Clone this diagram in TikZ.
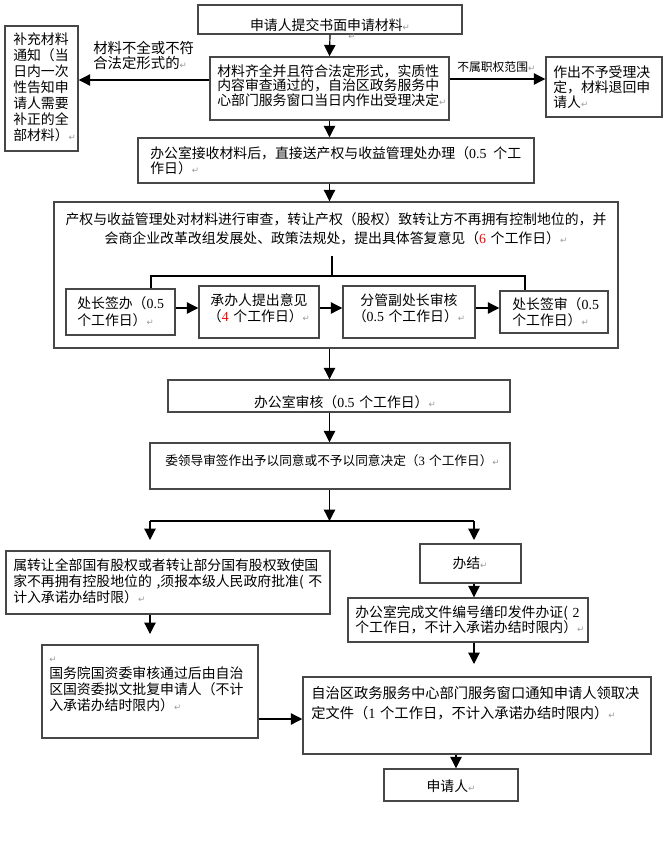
\documentclass[tikz,border=0pt]{standalone}
\usepackage{fontspec}
\setmainfont{Noto Sans CJK SC}
\newfontfamily\latf{Liberation Serif}
\newfontfamily\djvf{DejaVu Sans}
\usetikzlibrary{fit,arrows.meta}
\newcommand\retmk{{\color{black!40}\djvf\fontsize{6.5pt}{6.5pt}\selectfont ↵}}
\newcommand\nm[1]{{\latf #1}}
\newcommand\fsz[1]{\fontsize{10.4pt}{#1}\selectfont}
\begin{document}
\begin{tikzpicture}[x=0.75pt,y=-0.75pt,
  box/.style={draw=black!72, line width=1.1pt, inner sep=0pt},
  txt/.style={inner sep=0pt, anchor=base west, align=left, text width=420pt, font=\fsz{12pt}},
  ctxt/.style={txt, anchor=base, align=center},
  arr/.style={-{Triangle[length=8.5pt,width=8.5pt]}, line width=0.9pt, black},
  ln/.style={line width=0.9pt, black}]
\useasboundingbox (0,0) rectangle (667,847);

% top part
\node[box, fit={(198,5)(462,34)}] (b1) {};
\node[ctxt] (t1) at (330,30) {申请人提交书面申请材料\retmk};
\node[inner sep=0pt] (t1b) at (352,37) {\retmk};

\node[box, fit={(210,57)(449,120)}] (b2) {};
\node[txt, font=\fsz{11pt}] (t2) at (217,76) {材料齐全并且符合法定形式，实质性\\内容审查通过的，自治区政务服务中\\心部门服务窗口当日内作出受理决定\retmk};

\node[box, fit={(5,26)(78,151)}] (b3) {};
\node[txt, font=\fsz{12pt}] (t3) at (13,44) {补充材料\\通知（当\\日内一次\\性告知申\\请人需要\\补正的全\\部材料）\retmk};

\node[txt, font=\fontsize{10.8pt}{11.25pt}\selectfont] (t4) at (93,53) {材料不全或不符\\合法定形式的\retmk};

\node[box, fit={(546,57)(662,117)}] (b4) {};
\node[txt, font=\fsz{11.6pt}] (t5) at (553,77) {作出不予受理决\\定，材料退回申\\请人\retmk};
\node[txt, font=\fontsize{8.85pt}{10pt}\selectfont] (t6) at (457,71) {不属职权范围\retmk};

\draw[arr] (b1.south) -- (b2.north);
\draw[arr] (b2.west |- 0,80) -- (b3.east |- 0,80);
\draw[arr] (b2.east |- 0,79) -- (b4.west |- 0,79);

% office receive
\node[box, fit={(138,138)(534,183)}] (b5) {};
\node[txt, font=\fsz{11.25pt}] (t7) at (150,158) {办公室接收材料后，直接送产权与收益管理处办理（\nm{0.5}\, 个工\\作日）\retmk};
\draw[arr] (b2.south) -- (b2.south |- b5.north);

% big box
\node[box, fit={(54,202)(618,348)}] (b6) {};
\node[ctxt, text width=600pt, font=\fsz{14.25pt}] (t8) at (336,224) {产权与收益管理处对材料进行审查，转让产权（股权）致转让方不再拥有控制地位的，并\\会商企业改革改组发展处、政策法规处，提出具体答复意见（\textcolor{red}{\nm{6}} 个工作日）\retmk};
\draw[arr] (b2.south |- b5.south) -- (b2.south |- b6.north);

% sub boxes
\node[box, fit={(66,289)(175,335)}] (s1) {};
\node[txt, font=\fsz{12.75pt}] (u1) at (77,308) {处长签办（\nm{0.5}\\个工作日）\retmk};
\node[box, fit={(199,286)(319,338)}] (s2) {};
\node[ctxt, font=\fsz{12pt}] (u2) at (259,305) {承办人提出意见\\（\textcolor{red}{\nm{4}} 个工作日）\retmk};
\node[box, fit={(343,286)(475,338)}] (s3) {};
\node[ctxt, font=\fsz{12pt}] (u3) at (409,305) {分管副处长审核\\（\nm{0.5} 个工作日）\retmk};
\node[box, fit={(500,291)(608,333)}] (s4) {};
\node[txt, font=\fsz{12pt}] (u4) at (512,309) {处长签审（\nm{0.5}\\个工作日）\retmk};

\coordinate (sp) at (332,256);
\coordinate (hl) at (151,276);
\coordinate (hr) at (525,276);
\coordinate (ry) at (0,308);
\draw[ln] (sp) -- (sp |- hl);
\draw[ln] (s1.north -| hl) |- (hr) -- (s4.north -| hr);
\draw[arr] (s1.east |- ry) -- (s2.west |- ry);
\draw[arr] (s2.east |- ry) -- (s3.west |- ry);
\draw[arr] (s3.east |- ry) -- (s4.west |- ry);

% office review & leader
\node[box, fit={(168,380)(510,412)}] (b7) {};
\node[ctxt] (t9) at (345,407) {办公室审核（\nm{0.5} 个工作日）\retmk};
\node[box, fit={(150,443)(510,489)}] (b8) {};
\node[txt, font=\fontsize{9.5pt}{11pt}\selectfont] (t10) at (165,465) {委领导审签作出予以同意或不予以同意决定（\nm{3} 个工作日）\retmk};
\draw[arr] (b6.south -| b2.south) -- (b7.north -| b2.south);
\draw[arr] (b7.south -| b2.south) -- (b8.north -| b2.south);

% branch
\coordinate (brL) at (150,521);
\coordinate (brR) at (474,521);
\coordinate (tipL) at (150,540);
\coordinate (tipR) at (474,540);
\draw[arr] (b8.south -| b2.south) -- (b2.south |- brL);
\draw[ln] (brL) -- (brR);
\draw[arr] (brL) -- (tipL);
\draw[arr] (brR) -- (tipR);

% left branch
\node[box, fit={(6,551)(330,614)}] (b9) {};
\node[txt, font=\fsz{12pt}] (t11) at (13,570) {属转让全部国有股权或者转让部分国有股权致使国\\家不再拥有控股地位的 ,须报本级人民政府批准( 不\\计入承诺办结时限）\retmk};
\node[box, fit={(42,645)(258,738)}] (b12) {};
\node[inner sep=0pt, anchor=base west] (t12a) at (49,662) {\retmk};
\node[txt, font=\fsz{12pt}] (t12) at (49,678) {国务院国资委审核通过后由自治\\区国资委拟文批复申请人（不计\\入承诺办结时限内）\retmk};
\coordinate (tipG) at (150,634);
\draw[arr] (tipL |- b9.south) -- (tipG);

% right branch
\node[box, fit={(420,544)(521,583)}] (b10) {};
\node[ctxt] (t13) at (470,568) {办结\retmk};
\node[box, fit={(348,598)(588,642)}] (b11) {};
\node[txt, font=\fsz{11.25pt}] (t14) at (355,617) {办公室完成文件编号缮印发件办证( \nm{2}\\个工作日，不计入承诺办结时限内）\retmk};
\draw[arr] (tipR |- b10.south) -- (tipR |- b11.north);
\coordinate (tipZ) at (474,664);
\draw[arr] (tipR |- b11.south) -- (tipZ);

\node[box, fit={(303,677)(651,754)}] (b13) {};
\node[txt, font=\fontsize{10.7pt}{15pt}\selectfont] (t15) at (311,698) {自治区政务服务中心部门服务窗口通知申请人领取决\\定文件（\nm{1} 个工作日，不计入承诺办结时限内）\retmk};
\draw[arr] (b12.east |- 0,719) -- (b13.west |- 0,719);

\node[box, fit={(384,769)(518,801)}] (b14) {};
\node[ctxt] (t16) at (451,791) {申请人\retmk};
\coordinate (xz) at (456,0);
\draw[arr] (b13.south -| xz) -- (b14.north -| xz);
\end{tikzpicture}
\end{document}
